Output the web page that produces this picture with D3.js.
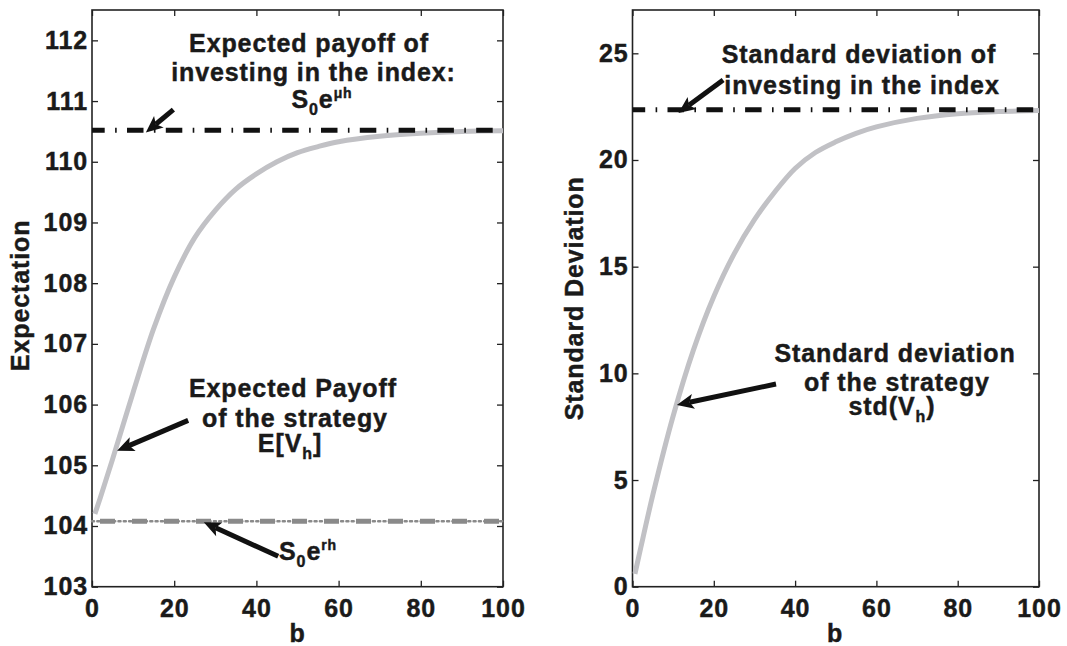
<!DOCTYPE html>
<html>
<head>
<meta charset="utf-8">
<script src="https://cdn.jsdelivr.net/npm/d3@7"></script>
<style>
  body { margin: 0; background: #fff; }
  text { font-family: "Liberation Sans", Arial, Helvetica, sans-serif; font-weight: bold; fill: #1a1a1a;
         stroke: #1a1a1a; stroke-width: 0.45px; letter-spacing: 0.9px; }
  .tick text { font-size: 25px; }
  .tick line { stroke: #222; stroke-width: 1.3; }
</style>
</head>
<body>
<div id="chart"></div>
<script>
// values
const bExp = [0.7, 2, 5, 10, 15, 20, 25, 30, 35, 40, 45, 50, 55, 60, 70, 80, 90, 100];
const expVals = [104.2, 104.46, 105.1, 106.2, 107.25, 108.1, 108.75, 109.2, 109.55, 109.8, 110.0, 110.15, 110.25, 110.33, 110.42, 110.47, 110.5, 110.51];
const bStd = [0.6, 2, 5, 10, 15, 20, 25, 30, 35, 40, 45, 50, 55, 60, 70, 80, 90, 100];
const stdVals = [0.6, 1.8, 4.3, 8.0, 11.1, 13.6, 15.6, 17.2, 18.5, 19.6, 20.35, 20.85, 21.25, 21.55, 21.95, 22.17, 22.27, 22.32];
const indexExp = 110.52;   // S0 e^{mu h}
const riskFreeExp = 104.08; // S0 e^{r h}
const indexStd = 22.35;
const xTicks = [0, 20, 40, 60, 80, 100];
const expTicks = [103, 104, 105, 106, 107, 108, 109, 110, 111, 112];
const stdTicks = [0, 5, 10, 15, 20, 25];

const width = 1067, height = 646;
const plotTop = 10, plotBottom = 586.7;

const svg = d3.select("#chart").append("svg")
    .attr("width", width)
    .attr("height", height);

function drawArrow(g, x1, y1, x2, y2) {
    const ang = Math.atan2(y2 - y1, x2 - x1);
    const headLen = 17, headW = 7.5;
    const bx = x2 - Math.cos(ang) * (headLen - 4), by = y2 - Math.sin(ang) * (headLen - 4);
    g.append("line")
        .attr("x1", x1).attr("y1", y1).attr("x2", bx).attr("y2", by)
        .attr("stroke", "#111").attr("stroke-width", 5);
    const c = Math.cos(ang), s = Math.sin(ang);
    const pt = (u, v) => [x2 + u * c - v * s, y2 + u * s + v * c];
    const pts = [pt(0, 0), pt(-headLen, headW), pt(-headLen + 4, 0), pt(-headLen, -headW)];
    g.append("polygon").attr("points", pts.map(p => p.join(",")).join(" ")).attr("fill", "#111");
}

function panel(x0, x1, yDomain, yTicks, bVals, vals) {
    const x = d3.scaleLinear().domain([0, 100]).range([x0, x1]);
    const y = d3.scaleLinear().domain(yDomain).range([plotBottom, plotTop]);
    const g = svg.append("g");

    // axes, ticks inward on all four sides
    g.append("g")
        .attr("transform", `translate(0,${plotBottom})`)
        .call(d3.axisBottom(x).tickValues(xTicks).tickSize(-6).tickSizeOuter(0).tickPadding(13))
        .call(a => a.select(".domain").remove());
    g.append("g")
        .attr("transform", `translate(0,${plotTop})`)
        .call(d3.axisTop(x).tickValues(xTicks).tickSize(-6).tickSizeOuter(0).tickFormat(""))
        .call(a => a.select(".domain").remove());
    g.append("g")
        .attr("transform", `translate(${x0},0)`)
        .call(d3.axisLeft(y).tickValues(yTicks).tickSize(-6).tickSizeOuter(0).tickPadding(4))
        .call(a => a.select(".domain").remove());
    g.append("g")
        .attr("transform", `translate(${x1},0)`)
        .call(d3.axisRight(y).tickValues(yTicks).tickSize(-6).tickSizeOuter(0).tickFormat(""))
        .call(a => a.select(".domain").remove());
    g.selectAll(".tick text").attr("fill", "#1a1a1a");

    g.append("rect")
        .attr("x", x0).attr("y", plotTop)
        .attr("width", x1 - x0).attr("height", plotBottom - plotTop)
        .attr("fill", "none").attr("stroke", "#222").attr("stroke-width", 1.6);

    // curve
    const line = d3.line()
        .x((d, i) => x(bVals[i]))
        .y(d => y(d))
        .curve(d3.curveCatmullRom.alpha(0.5));
    g.append("path")
        .attr("d", line(vals))
        .attr("fill", "none")
        .attr("stroke", "#c1c1c5")
        .attr("stroke-width", 5);

    return { g, x, y };
}

const ann = (g, cx, by, parts, size) => {
    const t = g.append("text").attr("x", cx).attr("y", by).attr("text-anchor", "middle").style("font-size", size + "px");
    parts.forEach(p => {
        t.append("tspan").attr("dy", p.dy || 0).style("font-size", (p.size || size) + "px").text(p.t);
    });
    return t;
};

// left: expectation
const L = panel(92, 503, [103, 112.5], expTicks, bExp, expVals);

L.g.append("line")
    .attr("x1", L.x(0)).attr("x2", L.x(100))
    .attr("y1", L.y(riskFreeExp)).attr("y2", L.y(riskFreeExp))
    .attr("stroke", "#8a8a8a").attr("stroke-width", 2.5)
    .attr("stroke-dasharray", "2,3.3").attr("stroke-linecap", "round");
L.g.append("line")
    .attr("x1", L.x(0)).attr("x2", L.x(100))
    .attr("y1", L.y(riskFreeExp)).attr("y2", L.y(riskFreeExp))
    .attr("stroke", "#8a8a8a").attr("stroke-width", 5)
    .attr("stroke-dasharray", "15,17").attr("stroke-dashoffset", -8);
L.g.append("line")
    .attr("x1", L.x(0)).attr("x2", L.x(100))
    .attr("y1", L.y(indexExp)).attr("y2", L.y(indexExp))
    .attr("stroke", "#111").attr("stroke-width", 5)
    .attr("stroke-dasharray", "16.5,10.4,1.6,10.3").attr("stroke-dashoffset", -35);

drawArrow(L.g, L.x(19.8), L.y(110.86), L.x(13.1), L.y(110.48));
drawArrow(L.g, L.x(23.4), L.y(105.74), L.x(6.1), L.y(105.24));
drawArrow(L.g, L.x(45.3), L.y(103.5), L.x(27.2), L.y(104.06));

ann(L.g, 309, 52, [{ t: "Expected payoff of" }], 25);
ann(L.g, 313.5, 81, [{ t: "investing in the index:" }], 25);
ann(L.g, 322, 108, [{ t: "S" }, { t: "0", size: 16, dy: 7 }, { t: "e", dy: -7 }, { t: "\u03bch", size: 14, dy: -10 }], 25);

ann(L.g, 293, 397, [{ t: "Expected Payoff" }], 25);
ann(L.g, 295, 427, [{ t: "of the strategy" }], 25);
ann(L.g, 290, 452, [{ t: "E[V" }, { t: "h", size: 16, dy: 7 }, { t: "]", dy: -7 }], 25);

L.g.append("text").attr("x", 279).attr("y", 560).style("font-size", "25px")
    .call(t => {
        t.append("tspan").text("S");
        t.append("tspan").attr("dy", 7).style("font-size", "16px").text("0");
        t.append("tspan").attr("dy", -7).text("e");
        t.append("tspan").attr("dy", -10).style("font-size", "14px").text("rh");
    });

L.g.append("text").attr("x", 297.5).attr("y", 642).attr("text-anchor", "middle").style("font-size", "25px").text("b");
L.g.append("text")
    .attr("transform", `translate(29,${(plotTop + plotBottom) / 2 - 3}) rotate(-90)`)
    .attr("text-anchor", "middle").style("font-size", "25px").text("Expectation");

// right: standard deviation
const R = panel(632.5, 1039, [0, 27.03], stdTicks, bStd, stdVals);

R.g.append("line")
    .attr("x1", R.x(0)).attr("x2", R.x(100))
    .attr("y1", R.y(indexStd)).attr("y2", R.y(indexStd))
    .attr("stroke", "#111").attr("stroke-width", 5)
    .attr("stroke-dasharray", "16.5,10.4,1.6,10.3").attr("stroke-dashoffset", -35);

drawArrow(R.g, R.x(22.3), R.y(23.75), R.x(11.3), R.y(22.2));
drawArrow(R.g, R.x(35.3), R.y(9.5), R.x(10.9), R.y(8.52));

ann(R.g, 859, 63, [{ t: "Standard deviation of" }], 25);
ann(R.g, 862, 94, [{ t: "investing in the index" }], 25);

ann(R.g, 895, 362, [{ t: "Standard deviation" }], 25);
ann(R.g, 897, 391, [{ t: "of the strategy" }], 25);
ann(R.g, 892, 415, [{ t: "std(V" }, { t: "h", size: 16, dy: 7 }, { t: ")", dy: -7 }], 25);

R.g.append("text").attr("x", 835).attr("y", 642).attr("text-anchor", "middle").style("font-size", "25px").text("b");
R.g.append("text")
    .attr("transform", `translate(583,${(plotTop + plotBottom) / 2}) rotate(-90)`)
    .attr("text-anchor", "middle").style("font-size", "25px").text("Standard Deviation");
</script>
</body>
</html>
